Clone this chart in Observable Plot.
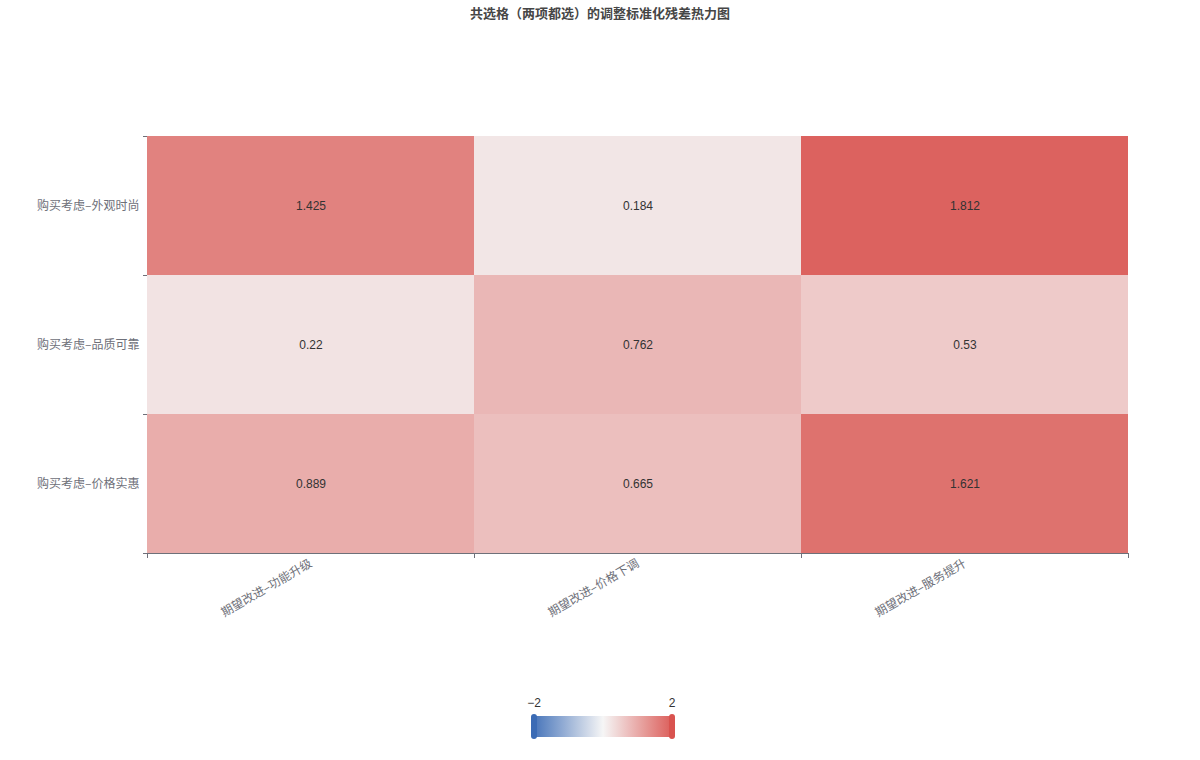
<!DOCTYPE html>
<html><head><meta charset="utf-8">
<script src="https://cdn.jsdelivr.net/npm/d3@7"></script>
<script src="https://cdn.jsdelivr.net/npm/@observablehq/plot@0.6"></script>
<style>
body{margin:0;background:#fff;font-family:"Noto Sans CJK SC","Noto Sans",sans-serif;}
#wrap{position:relative;width:1200px;height:760px;}
#title{position:absolute;left:0;top:3px;width:1200px;text-align:center;font-size:13px;font-weight:bold;color:#464646;}
#chart{position:absolute;left:0;top:0;}
#legend{position:absolute;left:0;top:0;width:1200px;height:760px;pointer-events:none;}
.lab{position:absolute;font-size:12px;color:#333;font-family:"Liberation Sans","DejaVu Sans",sans-serif;transform:translateX(-50%);}
.handle{position:absolute;width:6px;height:25px;border-radius:3px;}
</style></head>
<body><div id="wrap"><div id="title">共选格（两项都选）的调整标准化残差热力图</div><div id="chart"></div><div id="legend"></div></div>
<script>
const rows = ["购买考虑–外观时尚","购买考虑–品质可靠","购买考虑–价格实惠"];
const cols = ["期望改进–功能升级","期望改进–价格下调","期望改进–服务提升"];
const values = [
  [1.425, 0.184, 1.812],
  [0.22, 0.762, 0.53],
  [0.889, 0.665, 1.621]
];
const colorDomain = [-2, 0, 2];
const colorRange = ["#3b6bb5", "#f5f5f5", "#d9534f"];

const data = [];
rows.forEach((r, i) => cols.forEach((c, j) => data.push({row: r, col: c, value: values[i][j]})));

const axisColor = "#6e7079";
function boundaryTicks(index, scales, channels, dims) {
  const g = d3.create("svg:g").attr("stroke", axisColor).attr("stroke-width", 1);
  const x = scales.x, y = scales.y;
  const bx = x.bandwidth(), by = y.bandwidth();
  const yb = dims.height - dims.marginBottom;
  const xl = dims.marginLeft, xr = dims.width - dims.marginRight;
  g.append("line").attr("x1", xl).attr("x2", xr).attr("y1", yb + 0.5).attr("y2", yb + 0.5);
  const xs = cols.map(c => x(c)).concat([x(cols[cols.length - 1]) + bx]);
  xs.forEach(v => g.append("line").attr("x1", Math.round(v) + 0.5).attr("x2", Math.round(v) + 0.5).attr("y1", yb).attr("y2", yb + 5));
  const ys = rows.map(r => y(r)).concat([y(rows[rows.length - 1]) + by]);
  ys.forEach(v => g.append("line").attr("x1", xl - 4).attr("x2", xl).attr("y1", Math.round(v) + 0.5).attr("y2", Math.round(v) + 0.5));
  return g.node();
}

const plot = Plot.plot({
  width: 1200, height: 660,
  marginTop: 136, marginBottom: 107, marginLeft: 147, marginRight: 72,
  style: {fontFamily: '"Noto Sans CJK SC", sans-serif', fontSize: "12px", background: "transparent"},
  x: {domain: cols, label: null, padding: 0},
  y: {domain: rows, label: null, padding: 0},
  color: {type: "linear", domain: colorDomain, range: colorRange, interpolate: "rgb"},
  marks: [
    Plot.cell(data, {x: "col", y: "row", fill: "value", inset: 0}),
    Plot.text(data, {x: "col", y: "row", text: d => String(d.value), fill: "#333", fontSize: 12,
      fontFamily: '"Liberation Sans", "DejaVu Sans", sans-serif'}),
    Plot.axisX({tickRotate: -30, tickSize: 0, tickPadding: 9, fill: axisColor, fontSize: 12, label: null}),
    Plot.axisY({tickSize: 0, tickPadding: 8, fill: axisColor, fontSize: 12, label: null}),
    boundaryTicks
  ]
});
document.getElementById("chart").appendChild(plot);

// legend (continuous visual map)
const cs = plot.scale("color");
const cscale = d3.scaleLinear().domain(cs.domain).range(cs.range).interpolate(d3.interpolateRgb);
const lg = document.getElementById("legend");
const x0 = 535, x1 = 671, yTop = 716, h = 21;
const stops = d3.range(0, 11).map(k => {
  const v = colorDomain[0] + (colorDomain[2] - colorDomain[0]) * k / 10;
  return cscale(v) + " " + (k * 10) + "%";
});
const bar = document.createElement("div");
bar.style.cssText = `position:absolute;left:${x0}px;top:${yTop}px;width:${x1 - x0}px;height:${h}px;background:linear-gradient(to right, ${stops.join(",")});opacity:0.92;`;
lg.appendChild(bar);
[[colorDomain[0], x0 - 4, colorRange[0]], [colorDomain[2], x1 - 2, colorRange[2]]].forEach(([v, hx, col]) => {
  const hd = document.createElement("div");
  hd.className = "handle";
  hd.style.left = hx + "px"; hd.style.top = (yTop - 2) + "px"; hd.style.background = col;
  lg.appendChild(hd);
  const t = document.createElement("div");
  t.className = "lab";
  t.textContent = v < 0 ? "\u2212" + Math.abs(v) : String(v);
  t.style.left = (hx + 3) + "px"; t.style.top = "696px";
  lg.appendChild(t);
});
</script></body></html>
